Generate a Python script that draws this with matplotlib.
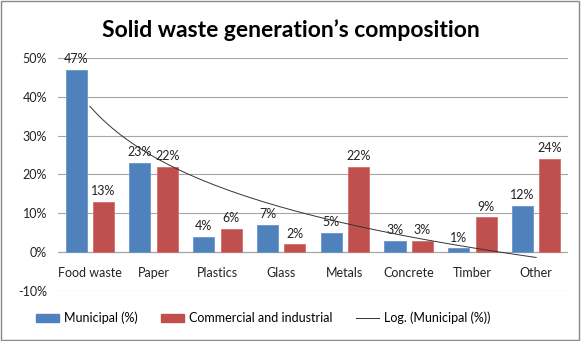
import numpy as np
import matplotlib.pyplot as plt
from matplotlib.lines import Line2D
from matplotlib.patches import Patch

plt.rcParams['font.family'] = ['Lato', 'DejaVu Sans']

categories = ['Food waste', 'Paper', 'Plastics', 'Glass', 'Metals', 'Concrete', 'Timber', 'Other']
municipal = [47, 23, 4, 7, 5, 3, 1, 12]
commercial = [13, 22, 6, 2, 22, 3, 9, 24]

blue = '#4F81BD'
red = '#C0504D'

fig = plt.figure(figsize=(5.81, 3.41), dpi=100)
ax = fig.add_axes([0.0998, 0.1466, 0.878, 0.6834])

x = np.arange(len(categories))
w = 0.33
ax.bar(x - w / 2 - 0.05, municipal, w, color=blue, edgecolor='#6A95CC', linewidth=0.6, zorder=2)
ax.bar(x + w / 2 + 0.05, commercial, w, color=red, edgecolor='#D0706D', linewidth=0.6, zorder=2)

for xi, v in zip(x, municipal):
    ax.text(xi - w / 2 - 0.05, v + 1.2, f'{v}%', ha='center', va='bottom', fontsize=9, color='#222222')
for xi, v in zip(x, commercial):
    ax.text(xi + w / 2 + 0.05, v + 1.2, f'{v}%', ha='center', va='bottom', fontsize=9, color='#222222')

# logarithmic trendline of municipal values (least squares on ln(n))
n = np.arange(1, len(municipal) + 1)
a, b = np.polyfit(np.log(n), municipal, 1)
tx = np.linspace(1, len(municipal), 200)
ax.plot(tx - 1, a * np.log(tx) + b, color='#333333', linewidth=0.7, zorder=3)

ax.set_xlim(-0.5, len(categories) - 0.5)
ax.set_ylim(-10, 50)
ax.set_yticks(range(-10, 51, 10))
ax.set_yticklabels([f'{t}%' for t in range(-10, 51, 10)], fontsize=9, color='#222222')
ax.set_xticks([])
for xi, c in zip(x, categories):
    ax.text(xi, -5.3, c, ha='center', va='center', fontsize=9, color='#222222')

ax.grid(axis='y', color='#A6A6A6', linewidth=0.8, zorder=0)
ax.axhline(0, color='#888888', linewidth=0.8, zorder=1)
for s in ax.spines.values():
    s.set_visible(False)
ax.tick_params(axis='y', length=0, pad=8)

fig.text(0.5, 0.913, 'Solid waste generation\u2019s composition', ha='center', va='center',
         fontsize=16.5, fontweight='bold')

handles = [Patch(color=blue), Patch(color=red), Line2D([0], [0], color='#333333', linewidth=0.7)]
labels = ['Municipal (%)', 'Commercial and industrial', 'Log. (Municipal (%))']
fig.legend(handles, labels, loc='center', bbox_to_anchor=(0.453, 0.067), ncol=3, frameon=False,
           fontsize=9, handlelength=1.8, handleheight=0.5, columnspacing=1.9, handletextpad=0.4)

fig.patches.append(plt.Rectangle((0.002, 0.003), 0.995, 0.994, transform=fig.transFigure,
                                 fill=False, edgecolor='#888888', linewidth=1))

fig.savefig('out.png', dpi=100)
